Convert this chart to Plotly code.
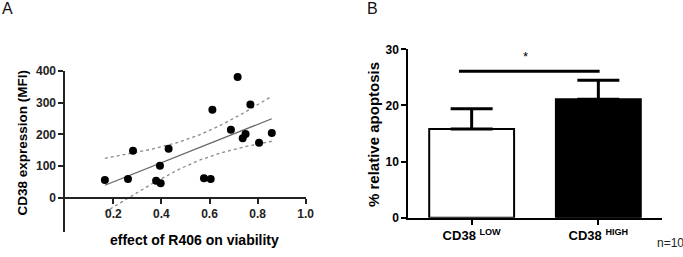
import numpy as np
import plotly.graph_objects as go

# ---------------- Panel A data ----------------
effect_r406 = [0.165, 0.261, 0.282, 0.394, 0.430, 0.378, 0.397, 0.577, 0.605,
               0.612, 0.689, 0.717, 0.738, 0.750, 0.770, 0.806, 0.859]
cd38_mfi = [56, 59, 148, 101, 155, 54, 46, 62, 59,
            278, 215, 381, 188, 201, 294, 174, 204]
a_xticks = [0.2, 0.4, 0.6, 0.8, 1.0]
a_xticktext = ["0.2", "0.4", "0.6", "0.8", "1.0"]
a_yticks = [0, 100, 200, 300, 400]
a_yticktext = ["0", "100", "200", "300", "400"]

# ---------------- Panel B data ----------------
groups = [0, 1]
group_labels = ["CD38 <sup>LOW</sup>", "CD38 <sup>HIGH</sup>"]
apoptosis_mean = [15.8, 21.1]
apoptosis_sem = [3.6, 3.4]
b_yticks = [0, 10, 20, 30]
sig_x = [-0.10, 1.01]
sig_y = [26.1, 26.1]

FONT = "Liberation Sans, Arial, Helvetica, sans-serif"
W, H = 683, 257

# linear regression + 95% confidence band
x = np.array(effect_r406)
y = np.array(cd38_mfi)
n = len(x)
slope, intercept = np.polyfit(x, y, 1)
xf = np.linspace(x.min(), x.max(), 60)
yf = intercept + slope * xf
resid = y - (intercept + slope * x)
s = np.sqrt(np.sum(resid ** 2) / (n - 2))
sxx = np.sum((x - x.mean()) ** 2)
t_crit = 2.131  # t(0.975, df=15)
half = t_crit * s * np.sqrt(1.0 / n + (xf - x.mean()) ** 2 / sxx)

fig = go.Figure()
fig.add_trace(go.Scatter(x=xf, y=yf + half, mode="lines",
                         line=dict(color="#8a8a8a", width=1.3, dash="dot"),
                         xaxis="x", yaxis="y", showlegend=False, hoverinfo="skip"))
fig.add_trace(go.Scatter(x=xf, y=yf - half, mode="lines",
                         line=dict(color="#8a8a8a", width=1.3, dash="dot"),
                         xaxis="x", yaxis="y", showlegend=False, hoverinfo="skip"))
fig.add_trace(go.Scatter(x=xf, y=yf, mode="lines",
                         line=dict(color="#666666", width=1.3),
                         xaxis="x", yaxis="y", showlegend=False, hoverinfo="skip"))
fig.add_trace(go.Scatter(x=effect_r406, y=cd38_mfi, mode="markers",
                         marker=dict(color="black", size=8),
                         xaxis="x", yaxis="y", showlegend=False))

# Panel B bars
fig.add_trace(go.Bar(x=groups, y=apoptosis_mean, width=0.67,
                     marker=dict(color=["white", "black"],
                                 line=dict(color="black", width=2)),
                     error_y=dict(type="data", array=apoptosis_sem,
                                  arrayminus=[0, 0], symmetric=False,
                                  color="black", thickness=3, width=21),
                     xaxis="x2", yaxis="y2", showlegend=False))
fig.add_trace(go.Scatter(x=sig_x, y=sig_y, mode="lines",
                         line=dict(color="black", width=3),
                         xaxis="x2", yaxis="y2", showlegend=False,
                         hoverinfo="skip", cliponaxis=False))

tickfont = dict(family=FONT, size=12, color="#222222", weight="bold")

fig.update_layout(
    width=W, height=H,
    margin=dict(l=0, r=0, t=0, b=0),
    paper_bgcolor="white", plot_bgcolor="white",
    font=dict(family=FONT, color="black"),
    xaxis=dict(domain=[65.2 / W, 305.7 / W], range=[0, 1.0], anchor="free",
               position=1 - 197.9 / H, showline=True, linecolor="#222",
               linewidth=1.5, ticks="outside", ticklen=5, tickwidth=1.5,
               tickcolor="#222", tickvals=a_xticks, ticktext=a_xticktext,
               tickfont=tickfont, showgrid=False, zeroline=False,
               automargin=False),
    yaxis=dict(domain=[1 - 231.7 / H, 1 - 71 / H], range=[-107, 400],
               anchor="x", side="left", showline=True, linecolor="#222",
               linewidth=1.5, showticklabels=True,
               ticks="outside", ticklen=5, tickwidth=1.5, tickcolor="#222",
               tickmode="array", tickvals=a_yticks, ticktext=a_yticktext,
               tickfont=tickfont, showgrid=False,
               zeroline=False, automargin=False),
    xaxis2=dict(domain=[408.3 / W, 661.7 / W], range=[-0.5, 1.5], anchor="y2",
                showline=True, linecolor="black", linewidth=2, ticks="outside",
                ticklen=5, tickwidth=2, tickcolor="black", tickvals=groups,
                ticktext=group_labels,
                tickfont=dict(family=FONT, size=13, color="black", weight="bold"),
                showgrid=False, zeroline=False, automargin=False),
    yaxis2=dict(domain=[1 - 217.7 / H, 1 - 49.3 / H], range=[0, 30], anchor="x2",
                showline=True, linecolor="black", linewidth=2, ticks="outside",
                ticklen=5, tickwidth=2, tickcolor="black", tickvals=b_yticks,
                tickfont=dict(family=FONT, size=12, color="black", weight="bold"),
                showgrid=False, zeroline=False, automargin=False),
)


def note(text, px, py, size, weight="normal", angle=0, color="black"):
    return dict(text=text, x=px / W, y=1 - py / H, xref="paper", yref="paper",
                xanchor="center", yanchor="middle", textangle=angle,
                showarrow=False,
                font=dict(family=FONT, size=size, color=color, weight=weight))


ann = [
    note("A", 7.5, 9, 16, color="#111"),
    note("B", 372.5, 9, 16, color="#111"),
    note("CD38 expression (MFI)", 22, 142.5, 13.5, "bold", -90),
    note("effect of R406 on viability", 194.5, 240, 14, "bold"),
    note("% relative apoptosis", 373, 135, 15, "bold", -90),
    note("n=10", 670, 243, 12, color="#222"),
    dict(text="*", x=0.427, y=28.8, xref="x2", yref="y2", xanchor="center",
         yanchor="middle", showarrow=False,
         font=dict(family=FONT, size=13, color="black")),
]
fig.update_layout(annotations=ann)

fig.write_html("out.html",
               config={"displayModeBar": False},
               post_script="document.body.style.margin='0';"
                           "document.body.style.overflow='hidden';")
